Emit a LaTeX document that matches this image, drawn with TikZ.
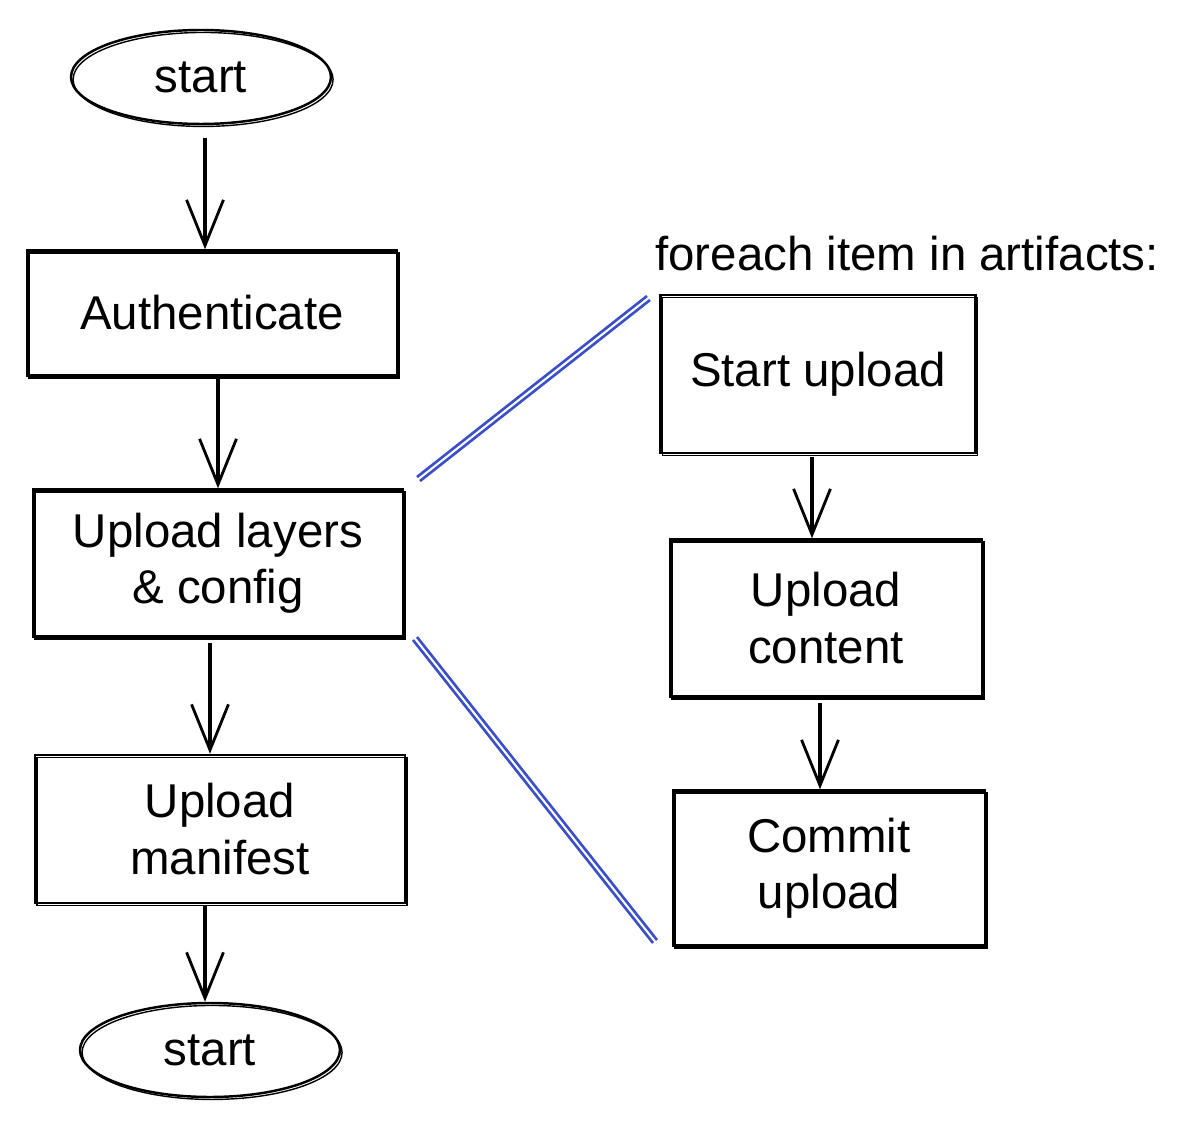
\documentclass[tikz,border=0pt]{standalone}
\usepackage{fontspec}
\setmainfont{Liberation Sans}
\usetikzlibrary{shapes.geometric,arrows.meta}

\begin{document}
\begin{tikzpicture}[x=0.02cm, y=-0.02cm,
    sketch/.style = {draw, line width=1.4pt, postaction={draw, line width=0.8pt, transform canvas={shift={(1.2pt,-1.4pt)}}}},
    box/.style = {sketch, rectangle, minimum width=7.4cm, minimum height=2.5cm, align=center, font=\fontsize{27}{32}\selectfont},
    term/.style = {sketch, ellipse, minimum width=5.2cm, minimum height=1.88cm, inner sep=0pt, font=\fontsize{27}{32}\selectfont},
    flow/.style = {line width=2.2pt, -{Straight Barb[length=26pt, width=21pt, line width=1.6pt]}},
    zoomline/.style = {line width=1.5pt, color={rgb,255:red,59;green,79;blue,201}}]
  \useasboundingbox (0,0) rectangle (1200,1128);
  % left column
  \node[term] (start) at (201,77) {start};
  \node[box] (auth) at (212,313) {Authenticate};
  \node[box, minimum height=2.94cm] (layers) at (218,563) {Upload layers\\ \& config};
  \node[box, minimum height=2.96cm] (manifest) at (220,829) {Upload\\ manifest};
  \node[term] (stop) at (210,1050) {start};
  \draw[flow] (start.south) ++(4,13) -- (auth.north -| 205,0);
  \draw[flow] (218,377) -- (layers.north -| 218,0);
  \draw[flow] (210,643) -- (manifest.north -| 210,0);
  \draw[flow] (205,905) -- (stop.north -| 205,0);
  % right column
  \node[anchor=west, font=\fontsize{27}{32}\selectfont, inner sep=0pt] (loop) at (655,254) {foreach item in artifacts:};
  \node[box, minimum width=6.3cm, minimum height=3.16cm] (begin) at (818,374) {Start upload};
  \node[box, minimum width=6.24cm, minimum height=3.14cm] (content) at (826,618) {Upload\\ content};
  \node[box, minimum width=6.24cm, minimum height=3.1cm] (commit) at (829,868) {Commit\\ upload};
  \draw[flow] (812,457) -- (content.north -| 812,0);
  \draw[flow] (820,703) -- (commit.north -| 820,0);
  % zoom lines
  \coordinate (a1) at (417,477);
  \coordinate (a2) at (647,296);
  \coordinate (b1) at (417,637);
  \coordinate (b2) at (657,940);
  \draw[zoomline] (a1) -- (a2) ([shift={(3,4)}]a1) -- ([shift={(3,4)}]a2);
  \draw[zoomline] (b1) -- (b2) ([shift={(-4,3)}]b1) -- ([shift={(-4,3)}]b2);
\end{tikzpicture}
\end{document}
